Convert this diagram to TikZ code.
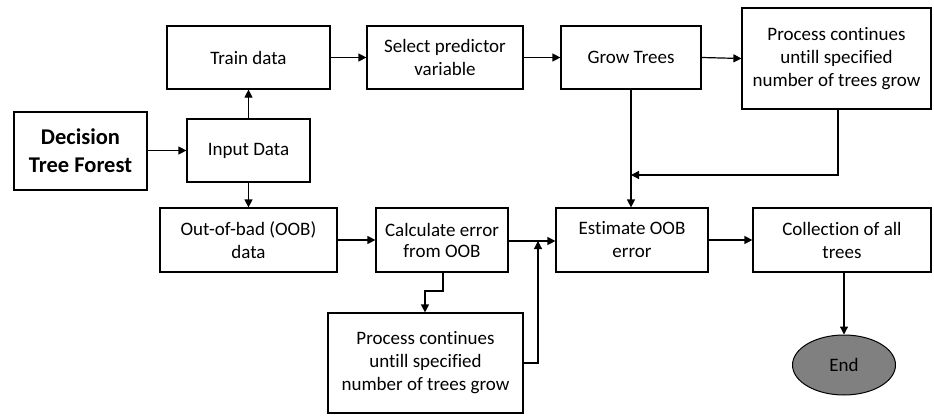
\documentclass[tikz,border=0pt]{standalone}
\usepackage{fontspec}
\setmainfont[Ligatures={NoCommon}]{Carlito}
\usetikzlibrary{arrows.meta,shapes.geometric}
\definecolor{endgray}{RGB}{128,128,128}
\begin{document}
\begin{tikzpicture}[x=1pt,y=-1pt,
  box/.style={draw,line width=1.2pt,align=center,inner sep=0pt,
    font=\fontsize{19}{23}\selectfont},
  link/.style={line width=1.2pt,-{Triangle[length=8pt,width=8pt]}}]
  \useasboundingbox (0,0) rectangle (934,415);

  % boxes, placed by centre with explicit sizes
  \node[box,minimum width=133pt,minimum height=78pt,
        font=\fontsize{22.5}{28}\selectfont\bfseries] (dtf) at (80.5,151) {Decision\\Tree Forest};
  \node[box,minimum width=163pt,minimum height=63pt] (train) at (248.5,57.5) {Train data};
  \node[box,minimum width=123pt,minimum height=63pt] (input) at (248.5,150.5) {Input Data};
  \node[box,minimum width=156pt,minimum height=63pt] (select) at (445,57.5) {Select predictor\\variable};
  \node[box,minimum width=140pt,minimum height=63pt] (grow) at (631,57.5) {Grow Trees};
  \node[box,minimum width=189pt,minimum height=101pt] (proc1) at (836.5,58.5) {Process continues\\untill specified\\number of trees grow};
  \node[box,minimum width=177pt,minimum height=64pt] (oob) at (248.5,240) {Out-of-bad (OOB)\\data};
  \node[box,minimum width=132pt,minimum height=64pt,
        font=\fontsize{19}{21}\selectfont] (calc) at (442,240) {Calculate error\\from OOB};
  \node[box,minimum width=195pt,minimum height=100pt] (proc2) at (425.5,363) {Process continues\\untill specified\\number of trees grow};
  \node[box,minimum width=152pt,minimum height=64pt] (est) at (632,240) {Estimate OOB\\error};
  \node[box,minimum width=178pt,minimum height=64pt] (coll) at (842,240) {Collection of all\\trees};
  \node[draw,line width=1pt,ellipse,fill=endgray,minimum width=103pt,minimum height=60pt,
        inner sep=0pt,font=\fontsize{19}{23}\selectfont] (end) at (844,365) {End};

  % junction points
  \coordinate (merge) at (631,175);
  \coordinate (jc) at (538,241);

  % connectors
  \draw[link] (dtf.east |- input) -- (input.west);
  \draw[link] (input.north) -- (train.south);
  \draw[link] (input.south) -- (oob.north);
  \draw[link] (train.east) -- (select.west);
  \draw[link] (select.east) -- (grow.west);
  \draw[link] (grow.east) -- (proc1.west);
  \draw[link] (grow.south) -- (est.north -| grow.south);
  \draw[link] (proc1.south -| 838,0) |- (merge);
  \draw[link] (oob.east) -- (calc.west);
  \draw[link] (calc.east |- jc) -- (est.west |- jc);
  \draw[link] (calc.south -| 443,0) -- (443,291) -- (425,291) -- (proc2.north -| 425,0);
  \draw[link] (proc2.east |- 0,363) -| (jc);
  \draw[link] (coll.south -| end.north) -- (end.north);
  \draw[link] (est.east) -- (coll.west);
\end{tikzpicture}
\end{document}
